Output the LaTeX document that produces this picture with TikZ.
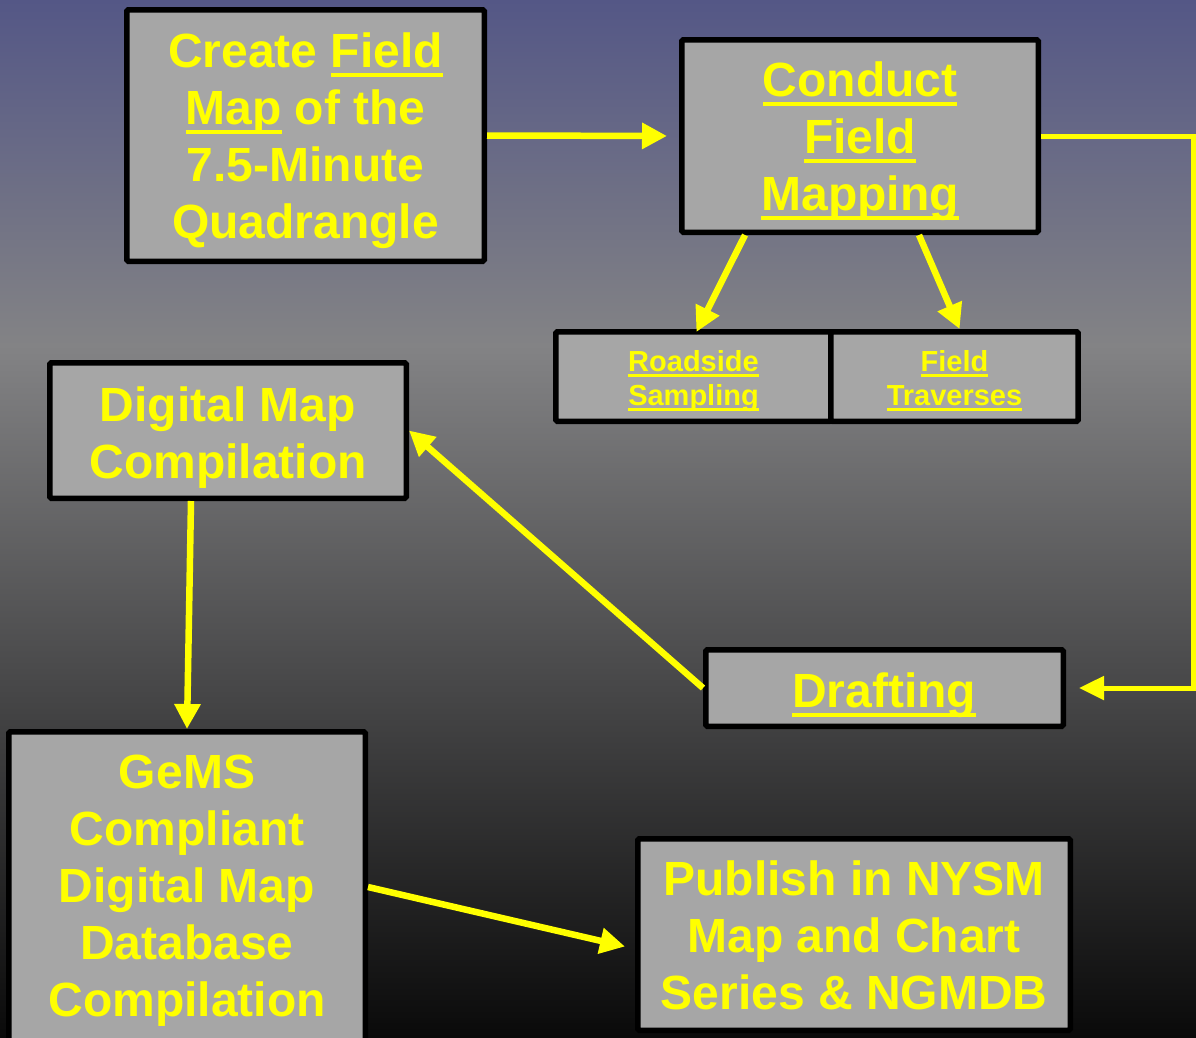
\documentclass[tikz,border=0pt]{standalone}
\usepackage{fontspec}
\setmainfont{Liberation Sans}
\usetikzlibrary{arrows.meta,calc}
\definecolor{bgtop}{RGB}{84,87,134}
\definecolor{bgmid}{RGB}{131,131,133}
\definecolor{bgbot}{RGB}{10,10,10}
\definecolor{boxfill}{RGB}{166,166,166}
\definecolor{yel}{RGB}{255,255,0}
\newcommand\myul[1]{\setbox0=\hbox{#1}\leavevmode\rlap{\vrule width\wd0 height -0.12em depth 0.21em}\box0\relax}
\tikzset{
 box/.style={draw=black, line width=5.5pt, fill=boxfill, rounded corners=1.5pt, inner sep=0pt},
 bigtext/.style={text=yel, font=\fontsize{48}{57}\selectfont\bfseries, align=center, inner sep=0pt},
 smalltext/.style={text=yel, font=\fontsize{29}{34}\selectfont\bfseries, align=center, inner sep=0pt},
 arr/.style={draw=yel, line width=6.5pt, -{Triangle[length=25pt,width=25pt]}},
 conn/.style={draw=yel, line width=5pt, -{Triangle[length=25pt,width=23pt]}},
}
\begin{document}
\begin{tikzpicture}[x=1pt,y=-1pt]
\useasboundingbox (0,0) rectangle (1196,1037);
\shade[top color=bgtop, bottom color=bgmid] (0,0) rectangle (1196,346);
\shade[top color=bgmid, bottom color=bgbot] (0,345) rectangle (1196,1037);

% boxes
\node[box, minimum width=357.5pt, minimum height=251.5pt] (box1) at (305.5,135.5) {};
\node[box, minimum width=356.5pt, minimum height=192.5pt] (box2) at (860,136) {};
\node[box, minimum width=275.25pt, minimum height=89.5pt] (road) at (693.4,376.5) {};
\node[box, minimum width=247.25pt, minimum height=89.5pt] (trav) at (954.6,376.5) {};
\node[box, minimum width=356.5pt, minimum height=135.5pt] (dmap) at (228,430.5) {};
\node[box, minimum width=357.5pt, minimum height=76.5pt] (draft) at (884.5,688) {};
\node[box, minimum width=356.5pt, minimum height=340.5pt] (gems) at (187,902) {};
\node[box, minimum width=432.5pt, minimum height=191.5pt] (pub) at (854,934.5) {};

% texts
\node[bigtext] (t1) at (305.5,141.1) {\strut Create \myul{Field}\\\myul{Map} of the\\7.5-Minute\\Quadrangle\strut};
\node[bigtext] (t2) at (860,141.6) {\strut\myul{Conduct}\\\myul{Field}\\\myul{Mapping}\strut};
\node[smalltext] (t3) at (693.5,381.2) {\strut\myul{Roadside}\\\myul{Sampling}\strut};
\node[smalltext] (t4) at (954.5,381.2) {\strut\myul{Field}\\\myul{Traverses}\strut};
\node[bigtext] (t5) at (228,438.1) {\strut Digital Map\\Compilation\strut};
\node[bigtext] (t6) at (884,695.6) {\strut\myul{Drafting}\strut};
\node[bigtext] (t7) at (187,890.8) {\strut GeMS\\Compliant\\Digital Map\\Database\\Compilation\strut};
\node[bigtext] (t8) at (854,940.9) {\strut Publish in NYSM\\Map and Chart\\Series \& NGMDB\strut};

% connectors
\draw[arr, shorten >=12pt] (box1.east) -- (box2.west);
\draw[conn, shorten >=13pt] (box2.east) -- ++(152,0) |- (draft.east);
\draw[arr] ($(box2.south west)+(66,0)$) -- ($(road.north)+(3,3)$);
\draw[arr] ($(box2.south west)+(240,0)$) -- ($(trav.north)+(5,0)$);
\draw[arr] (draft.west) -- (dmap.east);
\draw[arr] ($(dmap.south)+(-37,0)$) -- (gems.north);
\draw[arr] ($(gems.north east)+(0,158)$) -- ($(pub.west)+(-10,12)$);
\end{tikzpicture}
\end{document}
